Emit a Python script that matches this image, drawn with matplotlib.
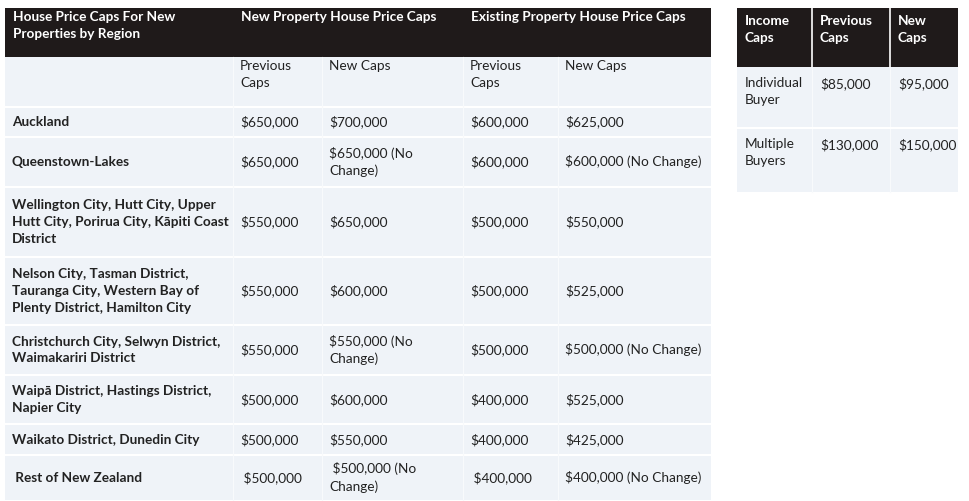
import matplotlib.pyplot as plt
import matplotlib.patches as patches

plt.rcParams['font.family'] = ['Lato', 'DejaVu Sans']

HEADER_BG = '#1f1a1a'
CELL_BG = '#eff3f8'

# Left table data
header_left = ['House Price Caps For New\nProperties by Region', 'New Property House Price Caps', '',
               'Existing Property House Price Caps', '']
subheader = ['', 'Previous\nCaps', 'New Caps', 'Previous\nCaps', 'New Caps']
regions = ['Auckland', 'Queenstown-Lakes',
           'Wellington City, Hutt City, Upper\nHutt City, Porirua City, Kāpiti Coast\nDistrict',
           'Nelson City, Tasman District,\nTauranga City, Western Bay of\nPlenty District, Hamilton City',
           'Christchurch City, Selwyn District,\nWaimakariri District',
           'Waipā District, Hastings District,\nNapier City',
           'Waikato District, Dunedin City',
           ' Rest of New Zealand']
new_prev = ['$650,000', '$650,000', '$550,000', '$550,000', '$550,000', '$500,000', '$500,000', ' $500,000']
new_caps = ['$700,000', '$650,000 (No\nChange)', '$650,000', '$600,000', '$550,000 (No\nChange)',
            '$600,000', '$550,000', ' $500,000 (No\nChange)']
exist_prev = ['$600,000', '$600,000', '$500,000', '$500,000', '$500,000', '$400,000', '$400,000', ' $400,000']
exist_caps = ['$625,000', '$600,000 (No Change)', '$550,000', '$525,000', '$500,000 (No Change)',
              '$525,000', '$425,000', '$400,000 (No Change)']

# Right table data
header_right = ['Income\nCaps', 'Previous\nCaps', 'New\nCaps']
buyer_types = ['Individual\nBuyer', 'Multiple\nBuyers']
income_prev = ['$85,000', '$130,000']
income_new = ['$95,000', '$150,000']

# geometry (pixels)
left_cols = [5, 233, 322, 463, 558, 711]
left_rows = [8, 57, 107, 137, 187, 257, 325, 375, 424, 455, 500]
right_cols = [737, 812, 890, 958]
right_rows = [8, 67, 128, 192]

fig = plt.figure(figsize=(9.69, 5.01), dpi=100)
ax = fig.add_axes([0, 0, 1, 1])
ax.set_xlim(0, 969)
ax.set_ylim(501, 0)
ax.axis('off')

FS = 9.8


def block(x0, x1, y0, y1, bg):
    ax.add_patch(patches.Rectangle((x0, y0), x1 - x0, y1 - y0, facecolor=bg, edgecolor='none'))


def txt(x, y, s, color='#222222', bold=False, va='top'):
    ax.text(x, y, s, fontsize=FS, color=color, fontweight='bold' if bold else 'normal',
            ha='left', va=va, linespacing=1.5)


# left table backgrounds
block(left_cols[0], left_cols[-1], left_rows[0], left_rows[1], HEADER_BG)
block(left_cols[0], left_cols[-1], left_rows[1], left_rows[-1], CELL_BG)
for y in left_rows[2:-1]:
    ax.plot([left_cols[0], left_cols[-1]], [y, y], color='white', lw=1.5)
for x in left_cols[1:-1]:
    ax.plot([x, x], [left_rows[1], left_rows[-1]], color='#f8fafc', lw=0.8)

for i, s in enumerate(header_left):
    if s:
        txt(left_cols[i] + 8, left_rows[0] + 3, s, color='white', bold=True)
for i in range(5):
    txt(left_cols[i] + 7, left_rows[1] + 3, subheader[i])

for r in range(len(regions)):
    y0, y1 = left_rows[r + 2], left_rows[r + 3]
    vals = [regions[r], new_prev[r], new_caps[r], exist_prev[r], exist_caps[r]]
    for c in range(5):
        txt(left_cols[c] + 7, (y0 + y1) / 2, vals[c], bold=(c == 0), va='center')

# right table
block(right_cols[0], right_cols[-1], right_rows[0], right_rows[1], HEADER_BG)
block(right_cols[0], right_cols[-1], right_rows[1], right_rows[-1], CELL_BG)
for x in right_cols[1:-1]:
    ax.plot([x, x], [right_rows[0], right_rows[1]], color='white', lw=1.2)
    ax.plot([x, x], [right_rows[1], right_rows[-1]], color='#f8fafc', lw=0.8)
for y in right_rows[2:-1]:
    ax.plot([right_cols[0], right_cols[-1]], [y, y], color='white', lw=1.5)

for c in range(3):
    txt(right_cols[c] + 8, right_rows[0] + 7, header_right[c], color='white', bold=True)
for r in range(2):
    y0 = right_rows[r + 1]
    vals = [buyer_types[r], income_prev[r], income_new[r]]
    for c in range(3):
        txt(right_cols[c] + 8, y0 + 10, vals[c])

fig.savefig('out.png', dpi=100, facecolor='white')
